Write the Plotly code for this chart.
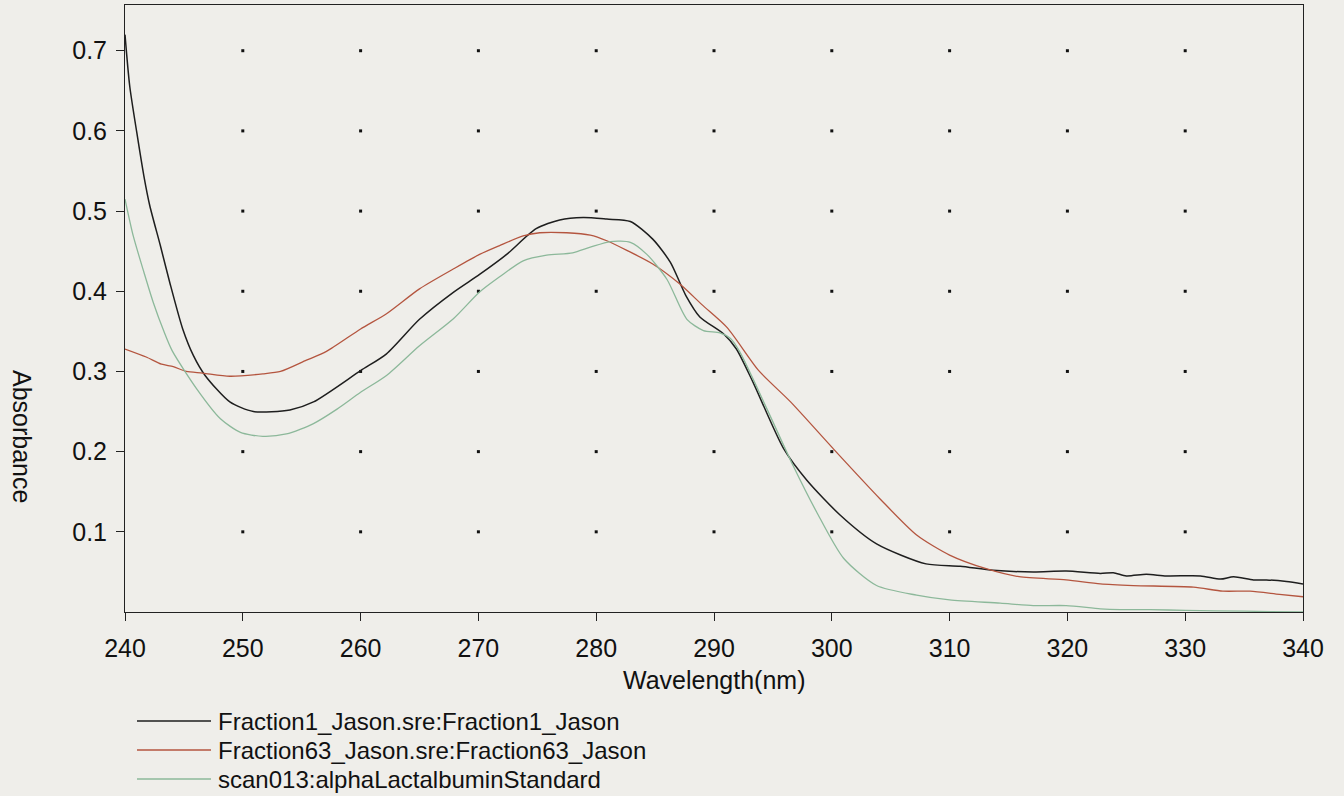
import numpy as np
import plotly.graph_objects as go

# ---- data ----
wl_f1 = [240.0, 240.4, 241.0, 241.6, 242.1, 243.0, 243.8, 244.9, 245.8, 246.8, 248.9, 250.9,
         254.0, 256.0, 260.0, 262.2, 265.0, 267.9, 270.1, 272.4, 274.9, 276.9, 278.9, 280.9,
         282.9, 284.8, 286.3, 287.6, 288.8, 290.8, 291.9, 293.3, 295.9, 297.9, 300.7, 303.8,
         308.0, 310.9, 313.7, 317.1, 319.9, 322.8, 323.9, 325.0, 326.7, 328.4, 331.3, 333.0,
         334.1, 335.8, 336.9, 338.6, 340.0]
abs_f1 = [0.720, 0.656, 0.598, 0.544, 0.507, 0.457, 0.411, 0.353, 0.320, 0.295, 0.262, 0.250,
          0.252, 0.262, 0.301, 0.322, 0.365, 0.399, 0.421, 0.446, 0.478, 0.489, 0.492, 0.490,
          0.487, 0.465, 0.436, 0.395, 0.368, 0.347, 0.328, 0.287, 0.204, 0.164, 0.121, 0.085,
          0.060, 0.057, 0.052, 0.050, 0.051, 0.048, 0.049, 0.045, 0.047, 0.045, 0.045, 0.041,
          0.044, 0.040, 0.040, 0.038, 0.035]

wl_f63 = [240.0, 241.8, 243.1, 244.1, 245.2, 246.6, 248.9, 251.7, 253.2, 255.4, 257.1, 260.0,
          262.2, 265.0, 267.9, 270.1, 271.8, 273.8, 275.2, 277.5, 279.5, 280.9, 282.6, 284.8,
          287.1, 289.0, 291.1, 293.8, 296.5, 300.1, 304.1, 307.2, 310.0, 313.1, 315.9, 319.9,
          322.8, 325.6, 330.7, 333.2, 335.5, 338.0, 340.0]
abs_f63 = [0.328, 0.318, 0.309, 0.306, 0.300, 0.298, 0.294, 0.297, 0.300, 0.314, 0.325, 0.353,
           0.372, 0.403, 0.428, 0.446, 0.457, 0.469, 0.473, 0.473, 0.470, 0.463, 0.451, 0.434,
           0.409, 0.383, 0.355, 0.301, 0.262, 0.204, 0.141, 0.096, 0.071, 0.054, 0.044, 0.040,
           0.035, 0.033, 0.031, 0.026, 0.026, 0.022, 0.019]

wl_std = [240.0, 240.7, 241.6, 242.4, 243.3, 244.0, 246.1, 248.1, 249.8, 251.7, 253.7, 256.0,
          258.0, 260.0, 262.2, 265.0, 267.9, 270.1, 271.8, 273.8, 275.8, 278.0, 279.5, 281.2,
          282.9, 284.3, 286.0, 287.7, 289.1, 290.5, 291.4, 292.2, 294.5, 296.7, 298.7, 301.0,
          303.8, 307.2, 310.0, 314.3, 317.1, 319.9, 322.8, 324.5, 327.0, 330.0, 335.0, 340.0]
abs_std = [0.515, 0.469, 0.424, 0.386, 0.350, 0.326, 0.278, 0.241, 0.224, 0.219, 0.222, 0.235,
           0.253, 0.274, 0.295, 0.332, 0.366, 0.399, 0.418, 0.438, 0.445, 0.448, 0.455, 0.462,
           0.461, 0.446, 0.415, 0.365, 0.351, 0.348, 0.341, 0.324, 0.253, 0.183, 0.125, 0.067,
           0.033, 0.021, 0.015, 0.011, 0.008, 0.008, 0.004, 0.003, 0.003, 0.002, 0.001, 0.000]

series_names = ["Fraction1_Jason.sre:Fraction1_Jason",
                "Fraction63_Jason.sre:Fraction63_Jason",
                "scan013:alphaLactalbuminStandard"]
series_colors = ["#1e1e1e", "#b4553f", "#8cb89a"]
series_widths = [1.5, 1.3, 1.3]

x_ticks = [240, 250, 260, 270, 280, 290, 300, 310, 320, 330, 340]
y_ticks = [0.1, 0.2, 0.3, 0.4, 0.5, 0.6, 0.7]
y_ticklabels = ["0.1", "0.2", "0.3", "0.4", "0.5", "0.6", "0.7"]

x_title = "Wavelength(nm)"
y_title = "Absorbance"

# ---- figure ----
W, H = 1344, 796
ML, MR, MT, MB = 125, 41, 5, 184
PW, PH = W - ML - MR, H - MT - MB
FONT = "Liberation Sans, Arial, sans-serif"
BG = "#efeeea"

fig = go.Figure()

# dotted grid: a dot at every inner tick intersection
gx, gy = np.meshgrid(x_ticks[1:-1], y_ticks)
fig.add_trace(go.Scatter(x=gx.ravel(), y=gy.ravel(), mode="markers",
                         marker=dict(symbol="square", size=3, color="#111111",
                                     line=dict(width=0)),
                         hoverinfo="skip", showlegend=False))

for wl, ab, name, col, lw in zip([wl_f1, wl_f63, wl_std], [abs_f1, abs_f63, abs_std],
                                 series_names, series_colors, series_widths):
    fig.add_trace(go.Scatter(x=wl, y=ab, mode="lines", name=name,
                             line=dict(color=col, width=lw, shape="spline", smoothing=0.7),
                             showlegend=False))

fig.update_layout(
    width=W, height=H,
    margin=dict(l=ML, r=MR, t=MT, b=MB),
    paper_bgcolor=BG, plot_bgcolor=BG,
    font=dict(family=FONT, size=25, color="#111111"),
    showlegend=False,
)
fig.update_xaxes(range=[240, 340], tickvals=x_ticks, ticktext=[str(v) for v in x_ticks],
                 showgrid=False, zeroline=False, showline=True, linecolor="#222222",
                 linewidth=1, mirror=True, ticks="outside", ticklen=8, tickcolor="#222222",
                 ticklabelstandoff=6, tickfont=dict(size=25))
fig.update_yaxes(range=[0, 0.757], tickvals=y_ticks, ticktext=y_ticklabels,
                 showgrid=False, zeroline=False, showline=True, linecolor="#222222",
                 linewidth=1, mirror=True, ticks="outside", ticklen=8, tickcolor="#222222",
                 ticklabelstandoff=4, tickfont=dict(size=25))

def px_x(p):
    return (p - ML) / PW

def px_y(p):
    return (H - MB - p) / PH

annotations = [
    dict(text=x_title, xref="paper", yref="paper", x=px_x(714), y=px_y(680),
         xanchor="center", yanchor="middle", showarrow=False, font=dict(size=25)),
    dict(text=y_title, xref="paper", yref="paper", x=px_x(22), y=px_y(437),
         xanchor="center", yanchor="middle", showarrow=False, textangle=90,
         font=dict(size=25)),
]
shapes = []
rows = [721, 750, 779]
for name, col, lw, ry in zip(series_names, series_colors, series_widths, rows):
    shapes.append(dict(type="line", xref="paper", yref="paper",
                       x0=px_x(137), x1=px_x(211), y0=px_y(ry), y1=px_y(ry),
                       line=dict(color=col, width=lw)))
    annotations.append(dict(text=name, xref="paper", yref="paper", x=px_x(216),
                            y=px_y(ry), xanchor="left", yanchor="middle",
                            showarrow=False, font=dict(size=24)))
fig.update_layout(annotations=annotations, shapes=shapes)

fig.write_html("out.html",
               config={"displayModeBar": False},
               post_script="document.body.style.margin='0px';"
                           "document.body.style.overflow='hidden';"
                           "document.body.style.background='#efeeea';")
